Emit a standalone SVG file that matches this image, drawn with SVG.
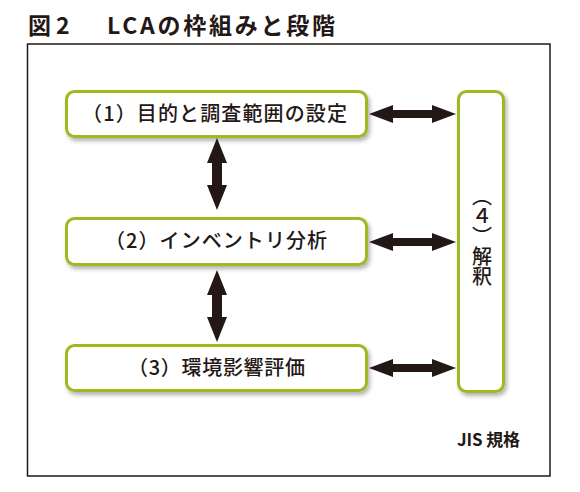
<svg xmlns="http://www.w3.org/2000/svg" width="580" height="492" viewBox="0 0 580 492">
<style>
.t{font-family:"Noto Sans CJK JP","Noto Sans",sans-serif;fill:#231815}
.title{font-size:23px;font-weight:700}
.lbl{font-size:20px;font-weight:500}
.box{fill:#fff;stroke:#9cba22;stroke-width:3;filter:url(#sh)}
.arr{fill:#231815}
</style>
<defs>
<filter id="sh" x="-10%" y="-10%" width="130%" height="140%">
<feDropShadow dx="2" dy="3" stdDeviation="2" flood-color="#000" flood-opacity="0.3"/>
</filter>
</defs>
<rect width="580" height="492" fill="#fff"/>
<g id="title">
<text class="t title" x="28" y="34">図</text>
<text class="t title" x="56" y="34">2</text>
<text class="t title" x="107" y="34" textLength="228" lengthAdjust="spacing">LCAの枠組みと段階</text>
</g>
<rect id="frame" x="27.5" y="44" width="522.5" height="432" fill="none" stroke="#231815" stroke-width="1.5"/>
<g id="connectors">
<path class="arr" d="M369,114 L393,105 L393,110 L432,110 L432,105 L456,114 L432,123 L432,118 L393,118 L393,123 Z"/>
<path class="arr" d="M369,242 L393,233 L393,238 L432,238 L432,233 L456,242 L432,251 L432,246 L393,246 L393,251 Z"/>
<path class="arr" d="M369,368 L393,359 L393,364 L432,364 L432,359 L456,368 L432,377 L432,372 L393,372 L393,377 Z"/>
<path class="arr" d="M217,138 L227,163 L222,163 L222,185 L227,185 L217,210 L207,185 L212,185 L212,163 L207,163 Z"/>
<path class="arr" d="M217,270 L227,295 L222,295 L222,317 L227,317 L217,342 L207,317 L212,317 L212,295 L207,295 Z"/>
</g>
<g id="node1">
<rect class="box" x="66.5" y="91.5" width="300" height="45" rx="8"/>
<text class="t lbl" x="82" y="121" textLength="265" lengthAdjust="spacing">（1）目的と調査範囲の設定</text>
</g>
<g id="node2">
<rect class="box" x="66.5" y="218.5" width="300" height="46" rx="8"/>
<text class="t lbl" x="105" y="248" textLength="222" lengthAdjust="spacing">（2）インベントリ分析</text>
</g>
<g id="node3">
<rect class="box" x="66.5" y="345.5" width="300" height="45" rx="8"/>
<text class="t lbl" x="128" y="375" textLength="177" lengthAdjust="spacing">（3）環境影響評価</text>
</g>
<g id="node4">
<rect class="box" x="458.5" y="91.5" width="45" height="300" rx="8"/>
<text class="t lbl" x="482" y="186" style="writing-mode:vertical-rl">（４）解釈</text>
</g>
<g id="source">
<text class="t" x="457" y="446" font-size="17" font-weight="700" textLength="63" lengthAdjust="spacing">JIS 規格</text>
</g>
</svg>
